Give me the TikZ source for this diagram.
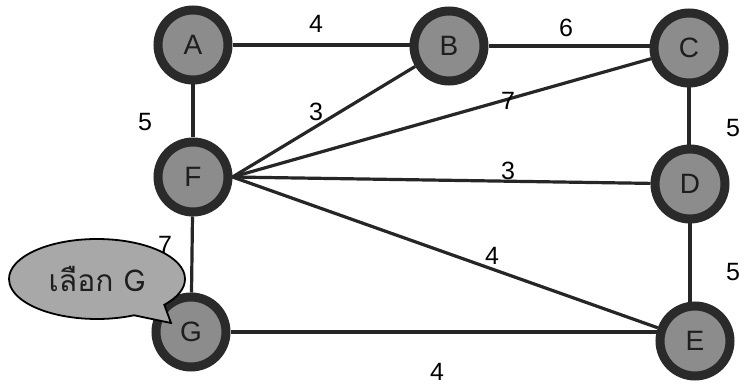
\documentclass[tikz,border=0pt]{standalone}
\usepackage{fontspec}
\setmainfont{Liberation Sans}
\newfontfamily\thaifont[Script=Thai]{Loma}
\usetikzlibrary{shapes.callouts}
\pgfdeclarelayer{paper}
\pgfdeclarelayer{edgelayer}
\pgfsetlayers{paper,edgelayer,main}
\definecolor{ringcol}{HTML}{2A2A2A}
\definecolor{fillcol}{HTML}{8C8C8C}
\definecolor{calloutcol}{HTML}{A8A8A8}
\definecolor{txtcol}{HTML}{1E1E1E}
\begin{document}
\begin{tikzpicture}[x=1pt,y=-1pt,
  vertex/.style={circle, minimum size=70pt, inner sep=0pt, fill=fillcol, draw=ringcol, line width=9pt,
    font=\fontsize{28}{28}\selectfont, text=txtcol},
  link/.style={line width=3.2pt, draw=black!85},
  wlabel/.style={font=\fontsize{25}{25}\selectfont, inner sep=0pt}]
\useasboundingbox (0,0) rectangle (745,387);
\begin{pgfonlayer}{paper}
\fill[white] (0,0) rectangle (745,387);
\end{pgfonlayer}
% nodes
\node[vertex] (A) at (193,45) {A};
\node[vertex] (B) at (449,46) {B};
\node[vertex] (C) at (689,48) {C};
\node[vertex] (F) at (193,177) {F};
\node[vertex] (D) at (690,184) {D};
\node[vertex] (G) at (191,332) {G};
\node[vertex] (E) at (695,341) {E};
% edges
\begin{pgfonlayer}{edgelayer}
\draw[link] (A) -- (B.center |- A);
\draw[link] (B) -- (C.center |- B);
\draw[link] (A) -- (F);
\draw[link] (F) -- (G);
\draw[link] (C) -- (C |- D.center);
\draw[link] (D) -- (D |- E.center);
\draw[link] (F.east) -- (B);
\draw[link] (F.east) -- (C);
\draw[link] (F.east) -- (D);
\draw[link] (F.east) -- (E);
\draw[link] (G) -- (E.center |- G);
\end{pgfonlayer}
% weights
\node[wlabel] (wab) at (316,24) {4};
\node[wlabel] (wbc) at (566,28) {6};
\node[wlabel] (waf) at (145,122) {5};
\node[wlabel] (wfb) at (316,112) {3};
\node[wlabel] (wfc) at (508,101) {7};
\node[wlabel] (wcd) at (733,128) {5};
\node[wlabel] (wfd) at (508,171) {3};
\node[wlabel] (wfe) at (492,256) {4};
\node[wlabel] (wfg) at (165,245) {7};
\node[wlabel] (wde) at (733,272) {5};
\node[wlabel] (wge) at (437,372) {4};
% callout
\node[ellipse callout, callout absolute pointer={(171,323)}, callout pointer arc=25, minimum width=176pt, minimum height=80pt,
  fill=calloutcol, draw=black, line width=1.8pt, inner sep=0pt,
  font=\thaifont\fontsize{30}{30}\selectfont, text=txtcol] (call) at (97,279) {เลือก G};
\end{tikzpicture}
\end{document}
